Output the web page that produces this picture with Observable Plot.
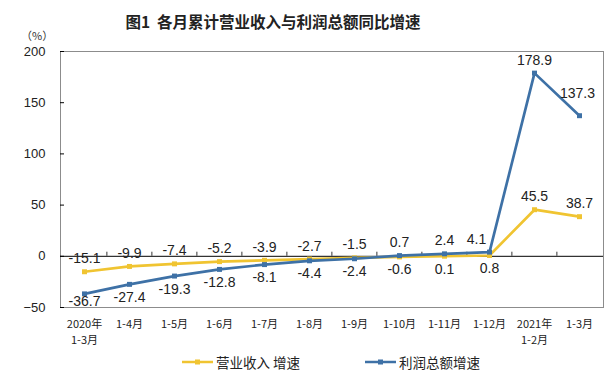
<!DOCTYPE html>
<html>
<head>
<meta charset="utf-8">
<script src="https://cdn.jsdelivr.net/npm/d3@7"></script>
<script src="https://cdn.jsdelivr.net/npm/@observablehq/plot@0.6"></script>
<style>
  html, body { margin: 0; padding: 0; background: #fff; overflow: hidden; }
  #wrap { position: relative; width: 612px; height: 373px; font-family: "Noto Sans CJK SC", "Liberation Sans", sans-serif; }
  #title { position: absolute; left: 0; top: 9px; width: 546px; text-align: center; font-size: 15.5px; font-weight: bold; color: #222; line-height: 24px; white-space: pre; }
  #unit { position: absolute; left: 21px; top: 29px; font-size: 11px; line-height: 12px; color: #333; z-index: 2; }
  #chart { position: absolute; left: 0; top: 40px; z-index: 1; }
  .leg { position: absolute; top: 352px; height: 20px; display: flex; align-items: center; font-size: 13.5px; color: #222; }
  .leg svg { margin-right: 3px; }
</style>
</head>
<body>
<div id="wrap">
  <div id="title">图1  各月累计营业收入与利润总额同比增速</div>
  <div id="chart"></div>
  <div id="unit">（%）</div>
  <div class="leg" style="left:182px"><svg width="31" height="10"><line x1="0" y1="5" x2="31" y2="5" stroke="#F0C431" stroke-width="2.5"/><rect x="13" y="2.5" width="5" height="5" fill="#F0C431"/></svg>营业收入 增速</div>
  <div class="leg" style="left:365px"><svg width="31" height="10"><line x1="0" y1="5" x2="31" y2="5" stroke="#3E71A6" stroke-width="2.5"/><rect x="13" y="2.5" width="5" height="5" fill="#3E71A6"/></svg>利润总额增速</div>
</div>
<script>
const categories = ["2020年\n1-3月", "1-4月", "1-5月", "1-6月", "1-7月", "1-8月", "1-9月", "1-10月", "1-11月", "1-12月", "2021年\n1-2月", "1-3月"];
const revenue = [-15.1, -9.9, -7.4, -5.2, -3.9, -2.7, -1.5, -0.6, 0.1, 0.8, 45.5, 38.7];
const profit = [-36.7, -27.4, -19.3, -12.8, -8.1, -4.4, -2.4, 0.7, 2.4, 4.1, 178.9, 137.3];
const yTicks = [-50, 0, 50, 100, 150, 200];
const seriesNames = ["营业收入增速", "利润总额增速"];
const colors = ["#F0C431", "#3E71A6"];

const rows = [];
[revenue, profit].forEach((vals, s) => {
  const others = s === 0 ? profit : revenue;
  categories.forEach((c, i) => {
    rows.push({cat: c, i, series: seriesNames[s], value: vals[i], other: others[i],
      prev: i > 0 ? vals[i - 1] : vals[i], next: i < vals.length - 1 ? vals[i + 1] : vals[i]});
  });
});
// label above when this series is the higher one, or for the 2021 points
const isAbove = d => d.value >= d.other || d.i >= 10;
const steepNext = d => d.next - d.value > 50;   // line shoots up to the right: shift label left
const steepPrev = d => d.prev - d.value > 20;   // line comes down from the left: lift label
const labelText = d => d.value.toFixed(1);

const W = 612, H = 310, ML = 60, MR = 9, MT = 11, MB = 43;
const step = (W - ML - MR) / categories.length;
const fontNum = "'Liberation Sans', Arial, sans-serif";
const txt = {x: "cat", text: labelText, fontSize: 14, fontFamily: fontNum, fill: "#222"};

const chart = Plot.plot({
  width: W, height: H,
  marginTop: MT, marginBottom: MB, marginLeft: ML, marginRight: MR,
  x: {type: "point", domain: categories, padding: 0.5, label: null},
  y: {domain: [-50, 200], label: null},
  color: {domain: seriesNames, range: colors},
  style: {fontFamily: "'Noto Sans CJK SC', sans-serif", background: "transparent", overflow: "visible"},
  marks: [
    Plot.frame({stroke: "#8c8c8c"}),
    Plot.ruleY([0], {stroke: "#000", strokeWidth: 1}),
    Plot.ruleX(categories.slice(1), {x: d => d, y1: 0, y2: 4, dx: -step / 2, stroke: "#333"}),
    Plot.axisY({ticks: yTicks, tickSize: 0, tickPadding: 15, line: true, stroke: "#000", fontSize: 13, fontFamily: "'Liberation Sans Narrow', 'Liberation Sans', sans-serif", fill: "#222"}),
    Plot.axisY({ticks: yTicks, tickSize: 4, dx: 4, tickFormat: () => "", stroke: "#000"}),
    Plot.axisX({tickSize: 0, tickPadding: 9, fontSize: 11, lineHeight: 1.45, fill: "#222"}),
    Plot.line(rows, {x: "cat", y: "value", z: "series", stroke: "series", strokeWidth: 2.7}),
    Plot.dot(rows, {x: "cat", y: "value", fill: "series", symbol: "square", r: 2.8}),
    Plot.text(rows.filter(d => isAbove(d) && !steepNext(d) && !steepPrev(d)), {...txt, y: "value", dy: -13}),
    Plot.text(rows.filter(d => isAbove(d) && steepNext(d)), {...txt, y: "value", dy: -13, dx: -13}),
    Plot.text(rows.filter(d => isAbove(d) && steepPrev(d)), {...txt, y: "value", dy: -22, dx: -2}),
    Plot.text(rows.filter(d => !isAbove(d)), {...txt, y: d => Math.max(d.value, -31), dy: 13})
  ]
});
document.getElementById("chart").append(chart);
</script>
</body>
</html>
